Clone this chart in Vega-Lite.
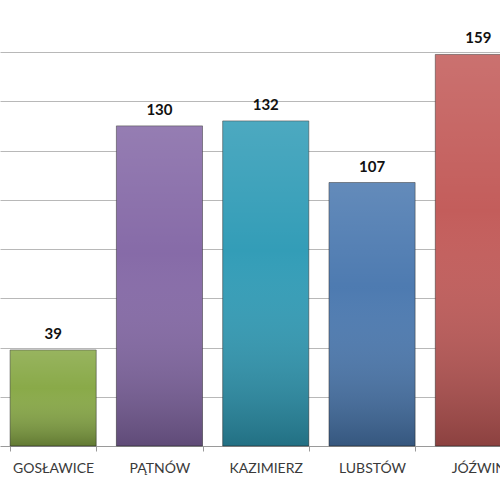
{
  "$schema": "https://vega.github.io/schema/vega-lite/v6.json",
  "autosize": "none",
  "width": 500,
  "height": 394,
  "padding": {"top": 52, "left": 0, "right": 0, "bottom": 54},
  "background": "white",
  "view": {"stroke": null},
  "data": {
    "values": [
      {"miejscowosc": "GOSŁAWICE", "liczba": 39},
      {"miejscowosc": "PĄTNÓW", "liczba": 130},
      {"miejscowosc": "KAZIMIERZ", "liczba": 132},
      {"miejscowosc": "LUBSTÓW", "liczba": 107},
      {"miejscowosc": "JÓŹWIN", "liczba": 159}
    ]
  },
  "encoding": {
    "x": {
      "field": "miejscowosc",
      "type": "nominal",
      "sort": null,
      "scale": {"range": [0, 531.5], "paddingInner": 0.19, "paddingOuter": 0.095},
      "axis": {
        "title": null,
        "labelAngle": 0,
        "tickBand": "extent",
        "tickSize": 5,
        "tickColor": "#9a9a9a",
        "domainColor": "#9a9a9a",
        "labelFont": "Lato",
        "labelFontSize": 14,
        "labelColor": "#3a3a3a",
        "labelPadding": 10,
        "grid": false
      }
    },
    "y": {
      "field": "liczba",
      "type": "quantitative",
      "scale": {"domain": [0, 160], "nice": false},
      "axis": {
        "title": null,
        "values": [20, 40, 60, 80, 100, 120, 140, 160],
        "labels": false,
        "ticks": false,
        "domain": false,
        "grid": true,
        "gridColor": "#b8b8b8",
        "gridWidth": 1
      }
    }
  },
  "layer": [
    {
      "mark": {"type": "bar", "stroke": "#2a2a2a", "strokeOpacity": 0.5, "strokeWidth": 1},
      "encoding": {
        "color": {
          "field": "miejscowosc",
          "type": "nominal",
          "sort": null,
          "legend": null,
          "scale": {"range": ["#87a845", "#8468a6", "#2f9bb6", "#4a78af", "#c25a58"]}
        }
      }
    },
    {
      "mark": {
        "type": "bar",
        "fill": {
          "gradient": "linear",
          "x1": 0, "y1": 0, "x2": 0, "y2": 1,
          "stops": [
            {"offset": 0, "color": "rgba(255,255,255,0.14)"},
            {"offset": 0.4, "color": "rgba(255,255,255,0.02)"},
            {"offset": 1, "color": "rgba(0,0,0,0.28)"}
          ]
        }
      }
    },
    {
      "mark": {
        "type": "text",
        "font": "Lato",
        "fontSize": 15,
        "fontWeight": "bold",
        "color": "#111111",
        "baseline": "alphabetic",
        "dy": -11
      },
      "encoding": {"text": {"field": "liczba", "type": "quantitative"}}
    }
  ]
}
